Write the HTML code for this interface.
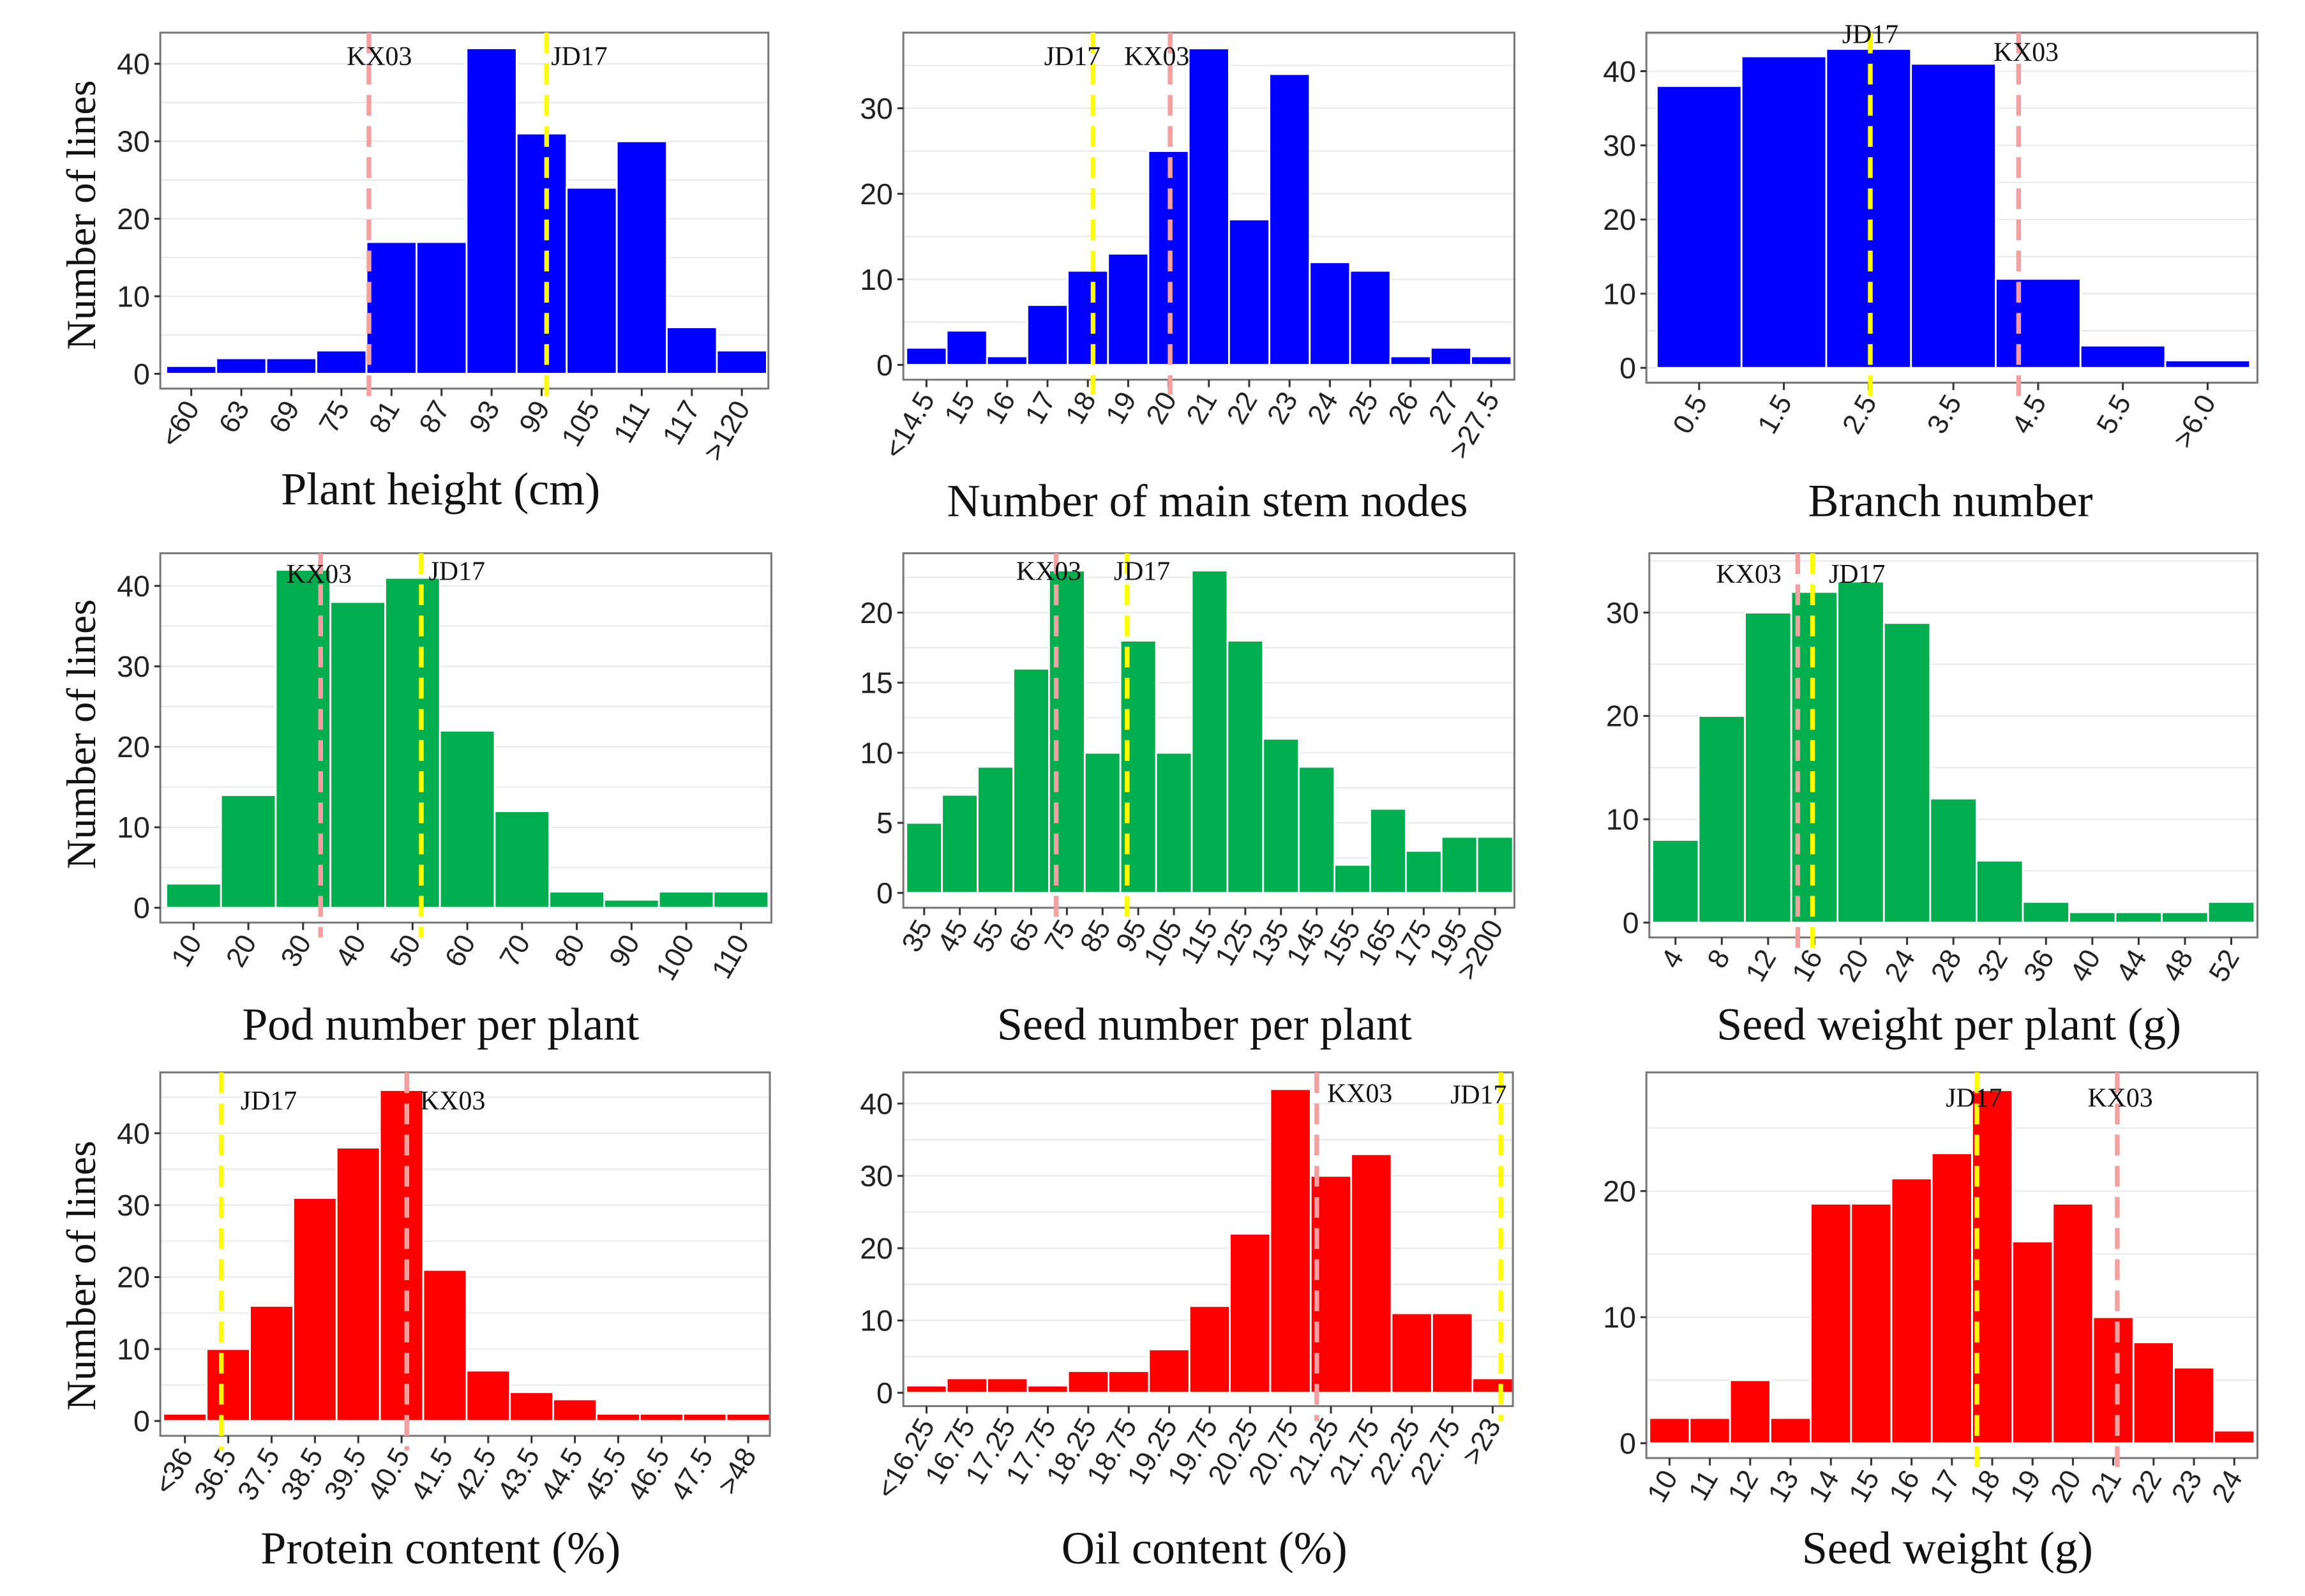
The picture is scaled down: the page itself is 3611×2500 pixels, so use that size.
<!DOCTYPE html>
<html><head><meta charset="utf-8"><style>
html,body{margin:0;padding:0;background:#fff;}
svg{display:block;}
</style></head><body>
<svg id="fig" xmlns="http://www.w3.org/2000/svg" width="3611" height="2500" viewBox="0 0 1554 1076">
<rect x="0" y="0" width="1554" height="1076" fill="#fff"/>
</svg>
<script>
// ---- data arrays ----
const p1Labels = ["<60","63","69","75","81","87","93","99","105","111","117",">120"];
const p1Values = [1,2,2,3,17,17,42,31,24,30,6,3];
const p1Kx = 3.55, p1Jd = 7.1;
const p2Labels = ["<14.5","15","16","17","18","19","20","21","22","23","24","25","26","27",">27.5"];
const p2Values = [2,4,1,7,11,13,25,37,17,34,12,11,1,2,1];
const p2Kx = 6.04, p2Jd = 4.13;
const p3Labels = ["0.5","1.5","2.5","3.5","4.5","5.5",">6.0"];
const p3Values = [38,42,43,41,12,3,1];
const p3Kx = 3.77, p3Jd = 2.02;
const p4Labels = ["10","20","30","40","50","60","70","80","90","100","110"];
const p4Values = [3,14,42,38,41,22,12,2,1,2,2];
const p4Kx = 2.32, p4Jd = 4.16;
const p5Labels = ["35","45","55","65","75","85","95","105","115","125","135","145","155","165","175","195",">200"];
const p5Values = [5,7,9,16,23,10,18,10,23,18,11,9,2,6,3,4,4];
const p5Kx = 3.7, p5Jd = 5.69;
const p6Labels = ["4","8","12","16","20","24","28","32","36","40","44","48","52"];
const p6Values = [8,20,30,32,33,29,12,6,2,1,1,1,2];
const p6Kx = 2.64, p6Jd = 2.96;
const p7Labels = ["<36","36.5","37.5","38.5","39.5","40.5","41.5","42.5","43.5","44.5","45.5","46.5","47.5",">48"];
const p7Values = [1,10,16,31,38,46,21,7,4,3,1,1,1,1];
const p7Kx = 5.12, p7Jd = 0.84;
const p8Labels = ["<16.25","16.75","17.25","17.75","18.25","18.75","19.25","19.75","20.25","20.75","21.25","21.75","22.25","22.75",">23"];
const p8Values = [1,2,2,1,3,3,6,12,22,42,30,33,11,11,2];
const p8Kx = 9.65, p8Jd = 14.2;
const p9Labels = ["10","11","12","13","14","15","16","17","18","19","20","21","22","23","24"];
const p9Values = [2,2,5,2,19,19,21,23,28,16,19,10,8,6,1];
const p9Kx = 11.1, p9Jd = 7.62;
const yTicks40 = [0,10,20,30,40];
const yTicks30 = [0,10,20,30];
const yTicks20 = [0,5,10,15,20];
const yTicks20b = [0,10,20];

const NS = "http://www.w3.org/2000/svg";
const svg = document.getElementById('fig');
function mk(tag, attrs, parent){const e=document.createElementNS(NS,tag);for(const k in attrs)e.setAttribute(k,attrs[k]);(parent||svg).appendChild(e);return e;}

const BLUE="#0000FF", GREEN="#00AD4F", RED="#FF0000";
const panels = [
 {id:"plant-height",bx0:108,bx1:518,by0:22,by1:262,b0:112,b1:517,y0:252,yv:40,yp:43,ticks:yTicks40,labels:p1Labels,values:p1Values,kx:p1Kx,jd:p1Jd,kdx:7,kty:38,jdx:22,jty:38,color:BLUE,title:"Plant height (cm)",tx:297,ty:330,ylab:true,ylc:145},
 {id:"main-stem-nodes",bx0:609,bx1:1021,by0:22,by1:256,b0:611,b1:1019,y0:246,yv:30,yp:73,ticks:yTicks30,labels:p2Labels,values:p2Values,kx:p2Kx,jd:p2Jd,kdx:-9,kty:38,jdx:-14,jty:38,color:BLUE,title:"Number of main stem nodes",tx:814,ty:338},
 {id:"branch-number",bx0:1110,bx1:1522,by0:22,by1:258,b0:1117,b1:1517,y0:248,yv:40,yp:48,ticks:yTicks40,labels:p3Labels,values:p3Values,kx:p3Kx,jd:p3Jd,kdx:5,kty:35,jdx:0,jty:23,color:BLUE,title:"Branch number",tx:1315,ty:338},
 {id:"pod-number",bx0:108,bx1:520,by0:373,by1:622,b0:112,b1:518,y0:612,yv:40,yp:395,ticks:yTicks40,labels:p4Labels,values:p4Values,kx:p4Kx,jd:p4Jd,kdx:-1,kty:387,jdx:24,jty:385,color:GREEN,title:"Pod number per plant",tx:297,ty:691,ylab:true,ylc:495},
 {id:"seed-number",bx0:609,bx1:1021,by0:373,by1:612,b0:611,b1:1020,y0:602,yv:20,yp:413,ticks:yTicks20,labels:p5Labels,values:p5Values,kx:p5Kx,jd:p5Jd,kdx:-5,kty:385,jdx:10,jty:385,color:GREEN,title:"Seed number per plant",tx:812,ty:691},
 {id:"seed-weight-per-plant",bx0:1112,bx1:1522,by0:373,by1:632,b0:1114,b1:1520,y0:622,yv:30,yp:413,ticks:yTicks30,labels:p6Labels,values:p6Values,kx:p6Kx,jd:p6Jd,kdx:-33,kty:387,jdx:30,jty:387,color:GREEN,title:"Seed weight per plant (g)",tx:1314,ty:691},
 {id:"protein-content",bx0:108,bx1:519,by0:723,by1:968,b0:110,b1:519,y0:958,yv:40,yp:764,ticks:yTicks40,labels:p7Labels,values:p7Values,kx:p7Kx,jd:p7Jd,kdx:31,kty:742,jdx:32,jty:742,color:RED,title:"Protein content (%)",tx:297,ty:1044,ylab:true,ylc:860},
 {id:"oil-content",bx0:609,bx1:1020,by0:723,by1:948,b0:611,b1:1020,y0:939,yv:40,yp:744,ticks:yTicks40,labels:p8Labels,values:p8Values,kx:p8Kx,jd:p8Jd,kdx:29,kty:737,jdx:-15,jty:738,color:RED,title:"Oil content (%)",tx:812,ty:1044},
 {id:"seed-weight",bx0:1110,bx1:1522,by0:723,by1:983,b0:1112,b1:1520,y0:973,yv:20,yp:803,ticks:yTicks20b,labels:p9Labels,values:p9Values,kx:p9Kx,jd:p9Jd,kdx:2,kty:740,jdx:-2,jty:740,color:RED,title:"Seed weight (g)",tx:1313,ty:1044}
];

panels.forEach(p=>{
  const g = mk('g',{});
  
  
  const n = p.values.length, w = (p.b1-p.b0)/n;
  const xS = i => p.b0 + (i+0.5)*w;
  const yS = v => p.y0 - (p.y0-p.yp)*v/p.yv;
  const bg = mk('rect',{x:p.bx0,y:p.by0,width:p.bx1-p.bx0,height:p.by1-p.by0,fill:'#fff'},g);
  
  
  const step = p.ticks[1]-p.ticks[0];
  for(let v=0; yS(v)>p.by0; v+=step/2){
    mk('line',{x1:p.bx0,x2:p.bx1,y1:yS(v),y2:yS(v),stroke:'#ebebeb','stroke-width':1},g);
  }
  p.values.forEach((v,i)=>{
    const r = mk('rect',{x:xS(i)-w/2,y:yS(v),width:w,height:yS(0)-yS(v),fill:p.color,stroke:'#fff','stroke-width':1.2},g);
    
    
  });
  mk('rect',{x:p.bx0,y:p.by0,width:p.bx1-p.bx0,height:p.by1-p.by0,fill:'none',stroke:'#777','stroke-width':1.3},g);
  p.ticks.forEach(t=>{
    mk('line',{x1:p.bx0-4,x2:p.bx0,y1:yS(t),y2:yS(t),stroke:'#333','stroke-width':1.3},g);
    const tx = mk('text',{x:p.bx0-7,y:yS(t)+7,'text-anchor':'end','font-family':'Liberation Sans, sans-serif','font-size':20,fill:'#222'},g);
    tx.textContent = t;
    
    
  });
  p.labels.forEach((l,i)=>{
    const x = xS(i);
    mk('line',{x1:x,x2:x,y1:p.by1,y2:p.by1+5,stroke:'#333','stroke-width':1.3},g);
    const tx = mk('text',{x:0,y:0,transform:`translate(${x+6},${p.by1+13}) rotate(-60)`,'text-anchor':'end','font-family':'Liberation Sans, sans-serif','font-size':19,fill:'#222'},g);
    tx.textContent = l;
    
    
  });
  const kxX = xS(p.kx), jdX = xS(p.jd);
  const kl = mk('line',{x1:kxX,x2:kxX,y1:p.by0,y2:p.by1+10,stroke:'#F4A0A0','stroke-width':3.2,'stroke-dasharray':'14 7'},g);
  
  
  const jl = mk('line',{x1:jdX,x2:jdX,y1:p.by0,y2:p.by1+10,stroke:'#FFFF00','stroke-width':3.2,'stroke-dasharray':'14 7'},g);
  
  
  const kt = mk('text',{x:kxX+p.kdx,y:p.kty+6,'text-anchor':'middle','font-family':'Liberation Serif, serif','font-size':18,fill:'#111'},g);
  kt.textContent='KX03';
  
  
  const jt = mk('text',{x:jdX+p.jdx,y:p.jty+6,'text-anchor':'middle','font-family':'Liberation Serif, serif','font-size':18,fill:'#111'},g);
  jt.textContent='JD17';
  
  
  const tt = mk('text',{x:p.tx,y:p.ty+10,'text-anchor':'middle','font-family':'Liberation Serif, serif','font-size':31,fill:'#111'},g);
  tt.textContent = p.title;
  
  
  if(p.ylab){
    const yt = mk('text',{x:0,y:0,transform:`translate(64,${p.ylc}) rotate(-90)`,'text-anchor':'middle','font-family':'Liberation Serif, serif','font-size':28,fill:'#111'},g);
    yt.textContent='Number of lines';
    
    
  }
});
</script>
</body></html>
